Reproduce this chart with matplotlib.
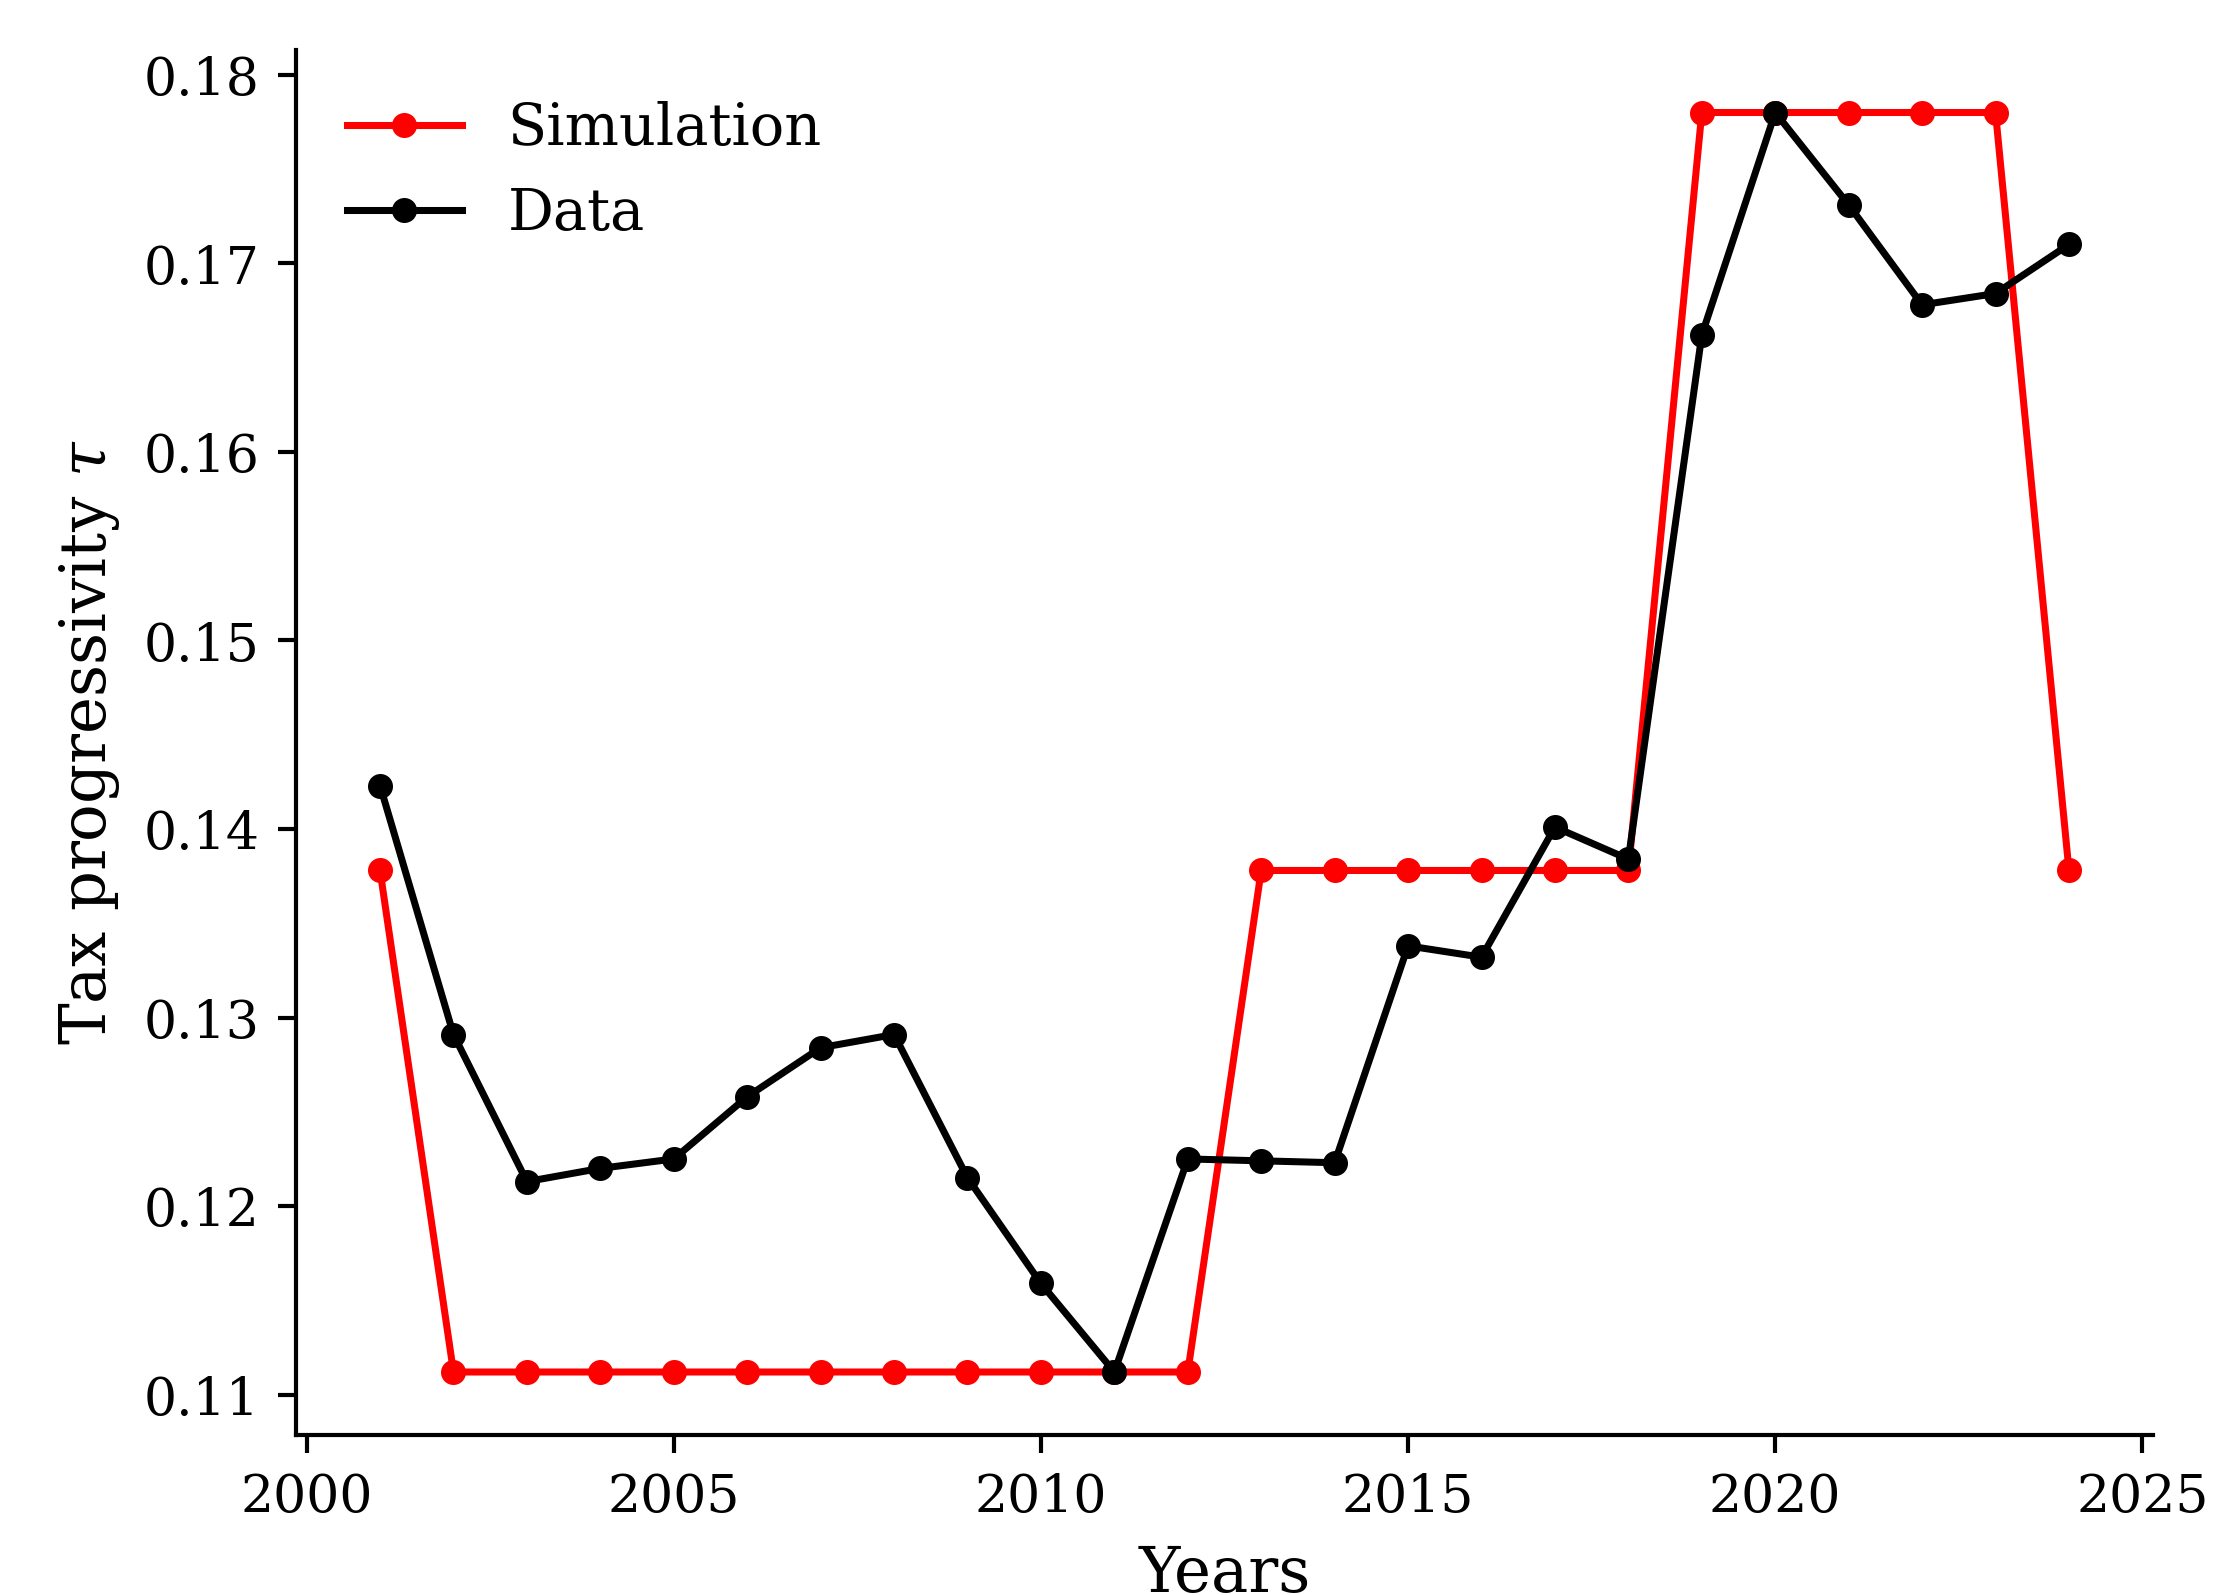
import matplotlib
matplotlib.use("Agg")
import matplotlib.pyplot as plt

years = list(range(2001, 2025))
simulation = [0.1378, 0.1112, 0.1112, 0.1112, 0.1112, 0.1112, 0.1112, 0.1112,
              0.1112, 0.1112, 0.1112, 0.1112, 0.1378, 0.1378, 0.1378, 0.1378,
              0.1378, 0.1378, 0.1780, 0.1780, 0.1780, 0.1780, 0.1780, 0.1378]
data = [0.1423, 0.1291, 0.1213, 0.1220, 0.1225, 0.1258, 0.1284, 0.1291,
        0.1215, 0.1159, 0.1112, 0.1225, 0.1224, 0.1223, 0.1338, 0.1332,
        0.1401, 0.1384, 0.1662, 0.1780, 0.1731, 0.1678, 0.1684, 0.1710]

plt.rcParams['font.family'] = ['DejaVu Serif']
plt.rcParams['mathtext.fontset'] = 'dejavuserif'

DPI = 375
fig = plt.figure(figsize=(2239.4/DPI, 1595.4/DPI), dpi=DPI)
ax = fig.add_axes([0.132, 0.1003, 0.8296, 0.8684])

ax.plot(years, simulation, color='red', marker='o', lw=1.35, ms=3.8, label='Simulation')
ax.plot(years, data, color='black', marker='o', lw=1.35, ms=3.8, label='Data')

ax.set_xticks([2000, 2005, 2010, 2015, 2020, 2025])
ax.set_yticks([0.11, 0.12, 0.13, 0.14, 0.15, 0.16, 0.17, 0.18])
ax.tick_params(labelsize=10)
ax.set_xlabel('Years', fontsize=12)
ax.set_ylabel(r'Tax progressivity $\tau$', fontsize=12)
ax.spines['top'].set_visible(False)
ax.spines['right'].set_visible(False)
ax.legend(loc='upper left', frameon=False, fontsize=11)

fig.savefig('out.png', dpi=DPI)
